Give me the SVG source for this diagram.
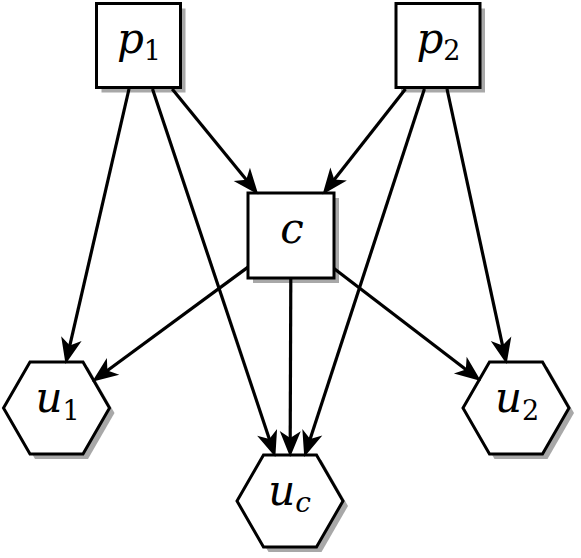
<svg xmlns="http://www.w3.org/2000/svg" width="581" height="558" viewBox="0 0 581 558">
<style>
.node{fill:#fff;stroke:#000;stroke-width:3;stroke-linejoin:miter}
.shadow{fill:#a8a8a8;stroke:none}
.lbl{font-family:"DejaVu Serif",serif;font-size:42px;fill:#000;text-anchor:middle}
.it{font-style:italic}
.sub{font-size:27px;font-style:normal}
.subit{font-size:28px;font-style:italic}
.edge{stroke:#000;stroke-width:3.2;fill:none;marker-end:url(#arr)}
</style>
<defs>
<marker id="arr" markerUnits="userSpaceOnUse" markerWidth="28" markerHeight="22" refX="12" refY="11" orient="auto" overflow="visible">
<path d="M0,0.5 L26,11 L0,21.5 L7,11 Z" fill="#000"/>
</marker>
</defs>
<g id="p1">
<rect class="shadow" x="101.5" y="8.5" width="84" height="84"/>
<rect class="node" x="96.5" y="3.5" width="84" height="84"/>
<text class="lbl" x="139" y="53"><tspan class="it">p</tspan><tspan class="sub" dy="7">1</tspan></text>
</g>
<g id="p2">
<rect class="shadow" x="401" y="8.5" width="84" height="84"/>
<rect class="node" x="396" y="3.5" width="84" height="84"/>
<text class="lbl" x="438.5" y="53"><tspan class="it">p</tspan><tspan class="sub" dy="7">2</tspan></text>
</g>
<g id="c">
<rect class="shadow" x="253" y="198" width="86" height="85"/>
<rect class="node" x="248" y="193" width="86" height="85"/>
<text class="lbl it" x="292" y="243">c</text>
</g>
<g id="u1">
<polygon class="shadow" points="8.5,413 35,367.1 88,367.1 114.5,413 88,458.9 35,458.9"/>
<polygon class="node" points="3.5,408 30,362.1 83,362.1 109.5,408 83,453.9 30,453.9"/>
<text class="lbl" x="57.5" y="412"><tspan class="it">u</tspan><tspan class="sub" dy="8">1</tspan></text>
</g>
<g id="uc">
<polygon class="shadow" points="242,506 268.5,460.1 321.5,460.1 348,506 321.5,551.9 268.5,551.9"/>
<polygon class="node" points="237,501 263.5,455.1 316.5,455.1 343,501 316.5,546.9 263.5,546.9"/>
<text class="lbl" x="289.5" y="505"><tspan class="it">u</tspan><tspan class="subit" dy="7">c</tspan></text>
</g>
<g id="u2">
<polygon class="shadow" points="468,413 494.5,367.1 547.5,367.1 574,413 547.5,458.9 494.5,458.9"/>
<polygon class="node" points="463,408 489.5,362.1 542.5,362.1 569,408 542.5,453.9 489.5,453.9"/>
<text class="lbl" x="517" y="412"><tspan class="it">u</tspan><tspan class="sub" dy="8">2</tspan></text>
</g>
<g id="connectors">
<line class="edge" x1="129" y1="89" x2="68.7" y2="350.3"/>
<line class="edge" x1="152.5" y1="89" x2="270.9" y2="443.7"/>
<line class="edge" x1="172.2" y1="89" x2="249.4" y2="183.6"/>
<line class="edge" x1="405.5" y1="89" x2="331.2" y2="183.5"/>
<line class="edge" x1="424.4" y1="89" x2="308.6" y2="443.7"/>
<line class="edge" x1="447" y1="89" x2="503.6" y2="350.4"/>
<line class="edge" x1="248" y1="267.1" x2="103.4" y2="373.5"/>
<line class="edge" x1="290.8" y1="278" x2="290.2" y2="443.1"/>
<line class="edge" x1="334" y1="268.5" x2="469.8" y2="372.5"/>
</g>
</svg>
